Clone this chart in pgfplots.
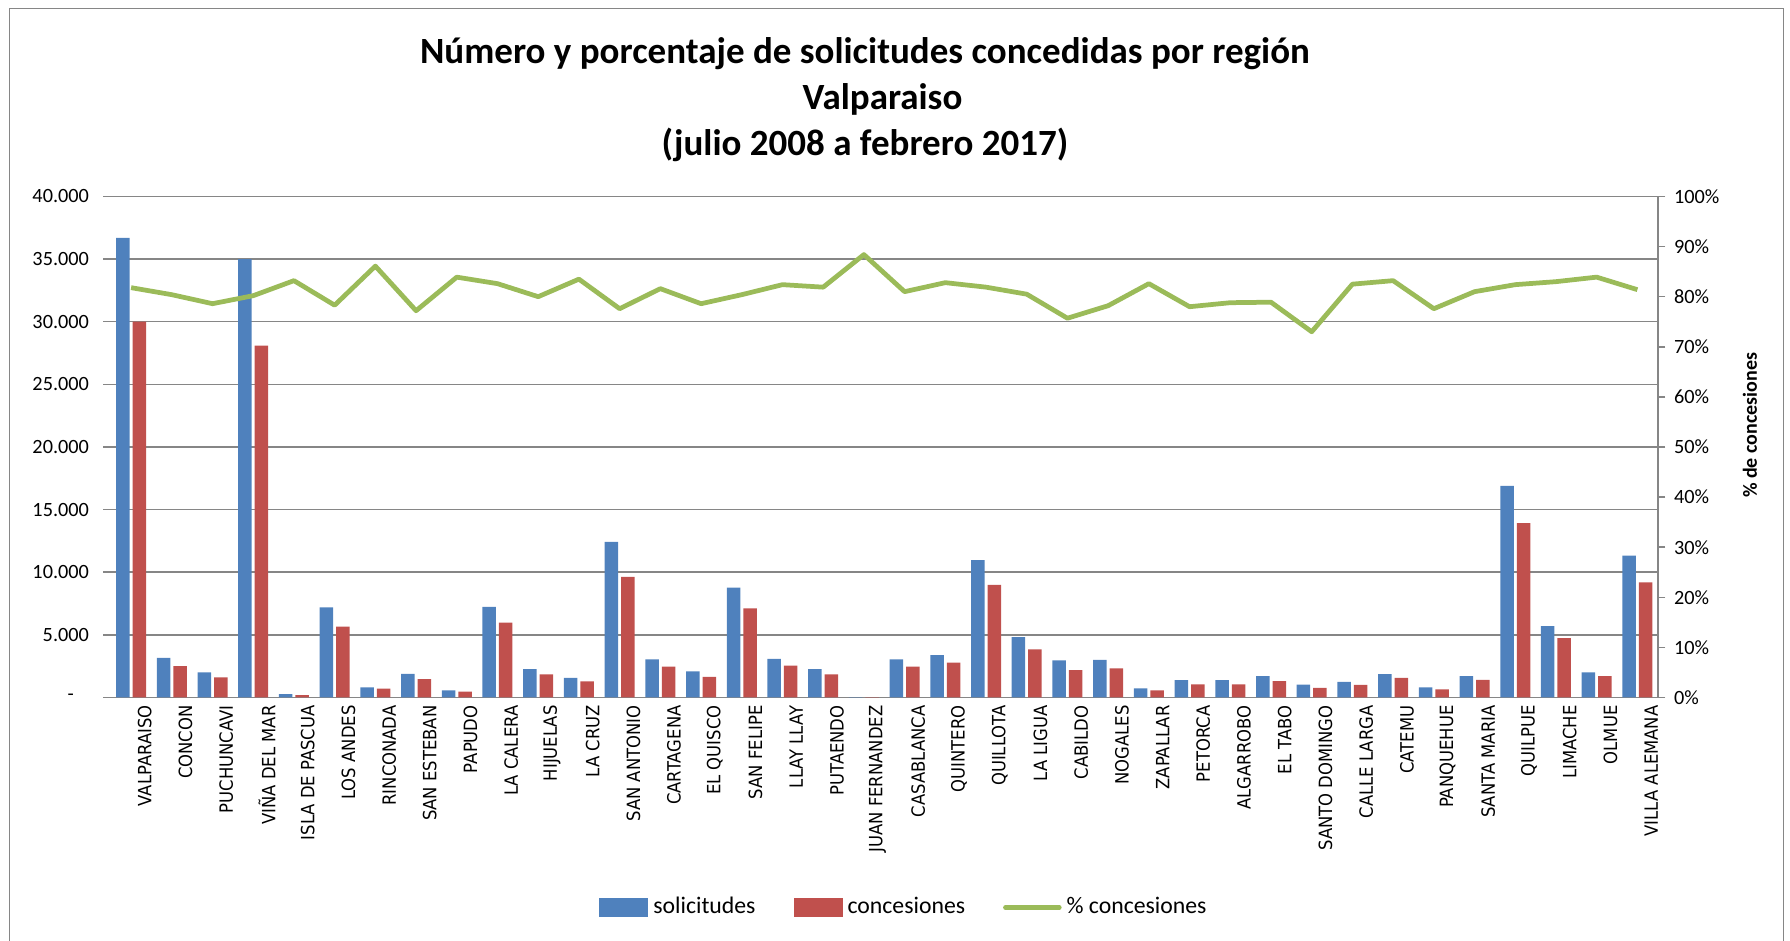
\documentclass[border=0pt]{standalone}
\usepackage{fontspec}
\setmainfont{Carlito}
\newfontfamily\verd[FakeStretch=0.9]{DejaVu Sans}
\usepackage{pgfplots}
\usepackage{pgfplotstable}
\pgfplotsset{compat=1.18}

\definecolor{cblue}{RGB}{79,129,189}
\definecolor{cred}{RGB}{192,80,77}
\definecolor{cgreen}{RGB}{155,187,89}
\definecolor{cgrid}{RGB}{134,134,134}

% x = category index, sol = solicitudes, con = concesiones, pct = % concesiones
\pgfplotstableread{
x sol con pct
0 36700 30000 81.8
1 3160 2510 80.4
2 2000 1600 78.6
3 35000 28100 80.2
4 270 190 83.2
5 7190 5650 78.3
6 810 700 86.1
7 1890 1460 77.2
8 570 460 83.9
9 7240 5970 82.6
10 2270 1840 80.0
11 1570 1290 83.5
12 12430 9620 77.6
13 3050 2460 81.6
14 2080 1650 78.6
15 8780 7110 80.4
16 3080 2540 82.4
17 2270 1840 81.9
18 30 26 88.4
19 3050 2460 81.0
20 3380 2780 82.8
21 10970 9000 81.9
22 4810 3840 80.5
23 2970 2190 75.7
24 3000 2320 78.2
25 730 570 82.6
26 1380 1050 78.0
27 1380 1050 78.8
28 1700 1300 78.9
29 1030 760 73.0
30 1240 1000 82.5
31 1860 1570 83.2
32 810 650 77.6
33 1700 1410 81.0
34 16890 13920 82.4
35 5700 4730 83.0
36 2000 1700 83.9
37 11320 9190 81.4
}\datatable

\pgfplotsset{
  base/.style={
    width=618.8pt, height=200.4pt, scale only axis,
    at={(44.3pt,97.4pt)}, anchor=south west,
    xmin=-0.5, xmax=37.5,
    tick align=outside, major tick length=3pt,
    ytick style={cgrid, line width=0.6pt},
    yticklabel style={font=\fontsize{8.1}{10}\selectfont},
    scaled y ticks=false,
  },
}

\begin{document}
\begin{tikzpicture}
\useasboundingbox (0,0) rectangle (716pt,376.4pt);
% chart frame
\draw[cgrid, line width=0.6pt] (3.8pt,0pt) -- (3.8pt,373pt) -- (713.4pt,373pt) -- (713.4pt,0pt);

% titles
\node[font=\fontsize{14.8}{17}\selectfont\bfseries] at (346pt,354.8pt) {Número y porcentaje de solicitudes concedidas por región};
\node[font=\fontsize{14.8}{17}\selectfont\bfseries] at (353pt,336.6pt) {Valparaiso};
\node[font=\fontsize{14.8}{17}\selectfont\bfseries] at (346pt,318.4pt) {(julio 2008 a febrero 2017)};
\node[font=\fontsize{8}{10}\selectfont\bfseries, rotate=90] at (700pt,206.2pt) {\% de concesiones};

\begin{axis}[base,
  ymin=0, ymax=40000,
  axis x line*=bottom, axis y line*=left,
  x axis line style={-, draw=cgrid, line width=0.6pt},
  y axis line style={draw=none},
  ymajorgrids, grid style={cgrid, line width=0.6pt},
  ytick={0,5000,10000,15000,20000,25000,30000,35000,40000},
  yticklabels={{-\rule{6pt}{0pt}},5.000,10.000,15.000,20.000,25.000,30.000,35.000,40.000},
  yticklabel style={xshift=-2.2pt},
  xtick={0,...,37}, xtick style={draw=none},
  xticklabels={VALPARAISO,CONCON,PUCHUNCAVI,VIÑA DEL MAR,ISLA DE PASCUA,LOS ANDES,RINCONADA,SAN ESTEBAN,PAPUDO,LA CALERA,HIJUELAS,LA CRUZ,SAN ANTONIO,CARTAGENA,EL QUISCO,SAN FELIPE,LLAY LLAY,PUTAENDO,JUAN FERNANDEZ,CASABLANCA,QUINTERO,QUILLOTA,LA LIGUA,CABILDO,NOGALES,ZAPALLAR,PETORCA,ALGARROBO,EL TABO,SANTO DOMINGO,CALLE LARGA,CATEMU,PANQUEHUE,SANTA MARIA,QUILPUE,LIMACHE,OLMUE,VILLA ALEMANA},
  xticklabel style={rotate=90, anchor=east, inner sep=0pt, yshift=-5.5pt,
    font=\verd\fontsize{7.3}{9}\selectfont},
]
\addplot[ybar, bar width=5.4pt, bar shift=-3.3pt, fill=cblue, draw=none] table[x=x,y=sol]{\datatable};
\addplot[ybar, bar width=5.4pt, bar shift=3.3pt, fill=cred, draw=none] table[x=x,y=con]{\datatable};
\end{axis}

\begin{axis}[base,
  ymin=0, ymax=100,
  axis x line=none, axis y line*=right,
  y axis line style={-, draw=cgrid, line width=0.6pt},
  ytick={0,10,...,100},
  yticklabels={0\%,10\%,20\%,30\%,40\%,50\%,60\%,70\%,80\%,90\%,100\%},
  legend columns=3,
  legend style={at={(0.5137,-0.419)}, anchor=center, draw=none, fill=none,
    font=\fontsize{9.5}{11}\selectfont,
    /tikz/every even column/.append style={column sep=13.2pt}},
]
\addlegendimage{fill=cblue, draw=none, legend image code/.code={\fill (0pt,-3.8pt) rectangle (19.6pt,3.8pt);}}
\addlegendentry{solicitudes}
\addlegendimage{fill=cred, draw=none, legend image code/.code={\fill (0pt,-3.8pt) rectangle (19.6pt,3.8pt);}}
\addlegendentry{concesiones}
\addplot[cgreen, line width=1.9pt, line join=round, no marks,
  legend image code/.code={\draw[line cap=round] (0pt,0pt) -- (21.5pt,0pt);}]
  table[x=x,y=pct]{\datatable};
\addlegendentry{\% concesiones}
\end{axis}
\end{tikzpicture}
\end{document}
